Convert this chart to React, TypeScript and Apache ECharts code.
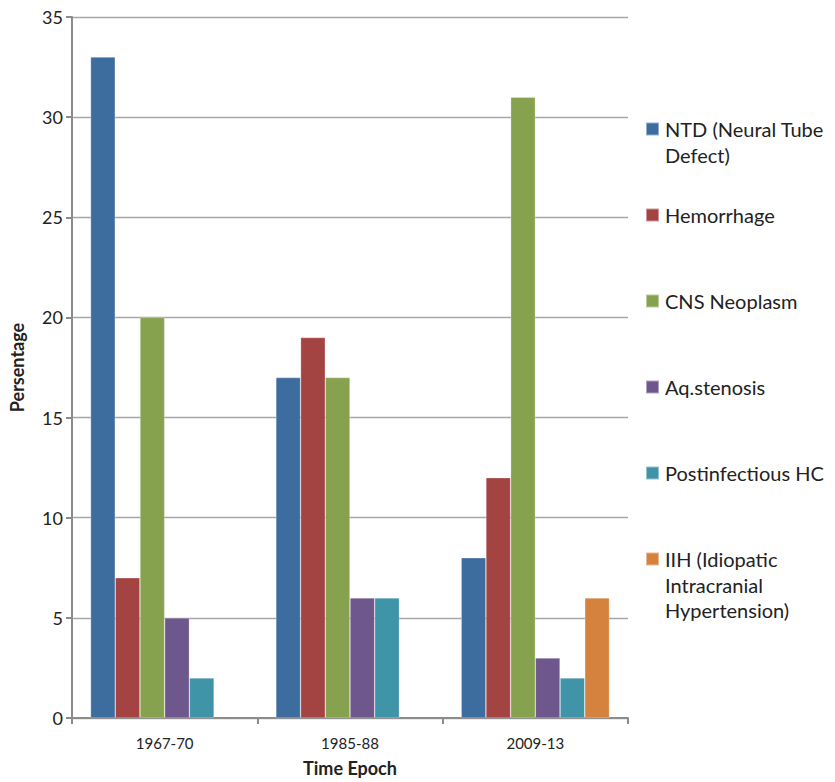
import React, { useEffect, useRef } from "react";
import * as echarts from "echarts";

const categories = ["1967-70", "1985-88", "2009-13"];
const seriesNames = [
  "NTD (Neural Tube Defect)",
  "Hemorrhage",
  "CNS Neoplasm",
  "Aq.stenosis",
  "Postinfectious HC",
  "IIH (Idiopatic Intracranial Hypertension)",
];
const legendLabels = [
  "\nNTD (Neural Tube\nDefect)",
  "Hemorrhage",
  "CNS Neoplasm",
  "Aq.stenosis",
  "Postinfectious HC",
  "\n\nIIH (Idiopatic\nIntracranial\nHypertension)",
];
const ntd = [33, 17, 8];
const hemorrhage = [7, 19, 12];
const cnsNeoplasm = [20, 17, 31];
const aqStenosis = [5, 6, 3];
const postinfectious = [2, 6, 2];
const iih = [null, null, 6];
const seriesValues = [ntd, hemorrhage, cnsNeoplasm, aqStenosis, postinfectious, iih];
const colors = ["#3d6d9e", "#a44442", "#87a24e", "#6e578c", "#4094a8", "#d5823e"];
const yTicks = [0, 5, 10, 15, 20, 25, 30, 35];

const FONT = "Lato, 'Open Sans', sans-serif";

export default function App() {
  const ref = useRef<HTMLDivElement>(null);
  useEffect(() => {
    if (!ref.current) return;
    const chart = echarts.init(ref.current, undefined, { renderer: "svg" });
    const firstLineCenters = [129, 215, 301, 387, 473, 559];
    const lh = 25.5;
    const legends = seriesNames.map((name, i) => {
      const lines = legendLabels[i].split("\n").length;
      const h = lines * lh;
      return {
        show: true,
        orient: "vertical" as const,
        left: 645,
        top: firstLineCenters[i] - h / 2,
        padding: 0,
        itemWidth: 13,
        itemHeight: 13,
        icon: "rect",
        data: [name],
        selectedMode: false,
        formatter: () => legendLabels[i],
        textStyle: {
          fontFamily: FONT,
          fontSize: 20,
          color: "#222222",
          lineHeight: lh,
          padding: [0, 0, 0, 1],
        },
      };
    });
    chart.setOption({
      animation: false,
      color: colors,
      textStyle: { fontFamily: FONT },
      grid: { left: 72, right: 207, top: 17, bottom: 62, containLabel: false },
      legend: legends,
      xAxis: {
        type: "category",
        data: categories,
        name: "Time Epoch",
        nameLocation: "middle",
        nameGap: 41,
        nameTextStyle: { fontFamily: FONT, fontSize: 18, fontWeight: "bold", color: "#222222" },
        axisLine: { show: true, lineStyle: { color: "#8c8c8c", width: 2 } },
        axisTick: { show: true, length: 6, lineStyle: { color: "#8c8c8c", width: 2 } },
        axisLabel: { fontFamily: FONT, fontSize: 15, color: "#222222", margin: 17 },
      },
      yAxis: {
        type: "value",
        min: 0,
        max: 35,
        interval: 5,
        name: "Persentage",
        nameLocation: "middle",
        nameGap: 46,
        nameRotate: 90,
        nameTextStyle: { fontFamily: FONT, fontSize: 18, fontWeight: "bold", color: "#222222" },
        axisLine: { show: true, lineStyle: { color: "#8c8c8c", width: 2 } },
        axisTick: { show: true, length: 6, lineStyle: { color: "#8c8c8c", width: 2 } },
        axisLabel: {
          fontFamily: FONT,
          fontSize: 18,
          color: "#222222",
          margin: 9,
          formatter: (v: number) => (yTicks.includes(v) ? String(v) : ""),
        },
        splitLine: { show: true, lineStyle: { color: "#a6a6a6", width: 1.3 } },
      },
      series: seriesNames.map((name, i) => ({
        name,
        type: "bar",
        data: seriesValues[i],
        barGap: "0%",
        barCategoryGap: "20%",
        itemStyle: { color: colors[i], borderColor: "rgba(255,255,255,0.45)", borderWidth: 0.6 },
      })),
    });
    return () => chart.dispose();
  }, []);
  return (
    <div
      ref={ref}
      style={{ position: "absolute", left: 0, top: 0, width: 835, height: 782 }}
    />
  );
}
